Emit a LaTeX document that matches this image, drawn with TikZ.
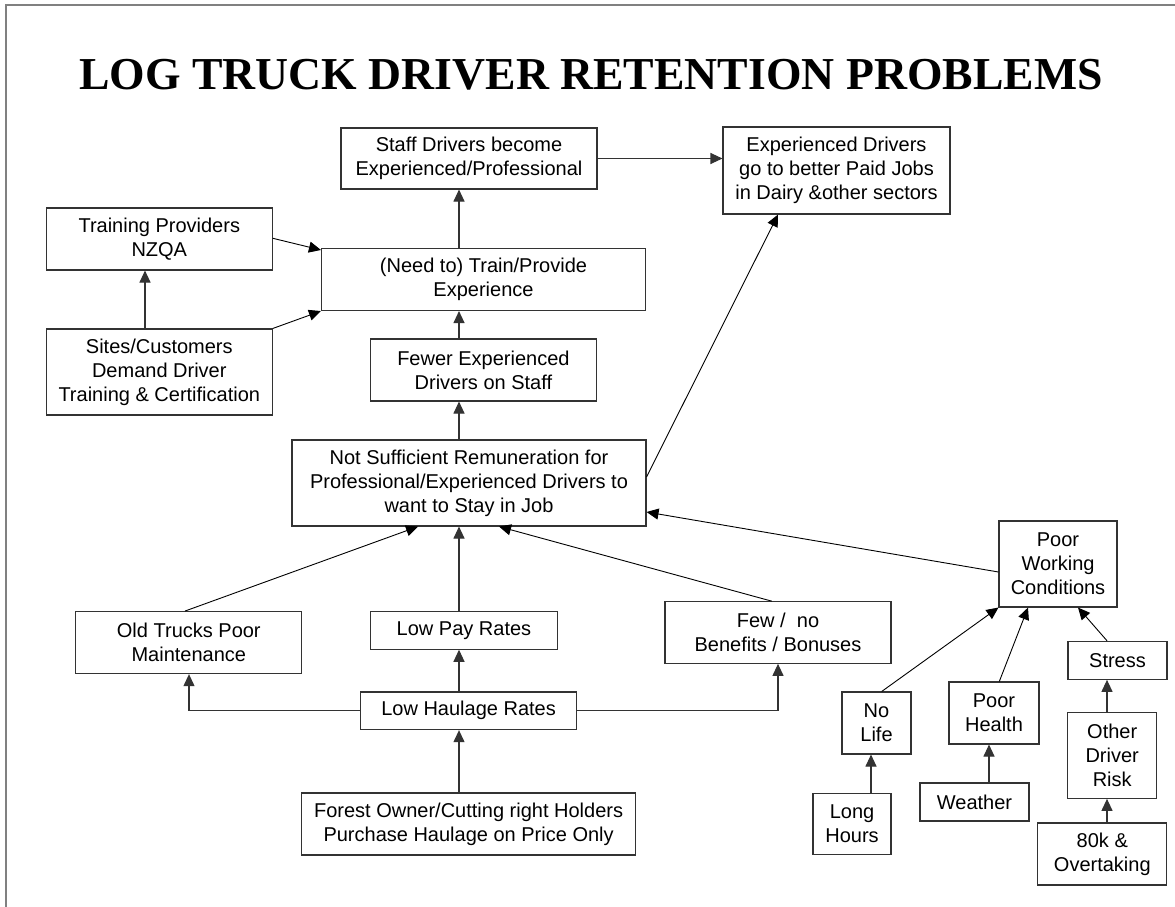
\documentclass[tikz,border=0pt]{standalone}
\usepackage{fontspec}
\setmainfont{Liberation Sans}
\newfontfamily\titlefont{Liberation Serif}
\usetikzlibrary{arrows.meta}

\begin{document}
\begin{tikzpicture}[x=1pt,y=-1pt,
  box/.style={draw=black!80, line width=1.1pt, align=center, inner sep=0pt,
              font=\fontsize{20}{24}\selectfont},
  arr/.style={draw=black!80, line width=1.1pt, -{Triangle[length=12pt,width=11pt]}},
  slant/.style={arr, draw=black, line width=0.9pt}]
\useasboundingbox (0,0) rectangle (1175,907);
% page frame
\draw[black!50, line width=2pt] (6,907) -- (6,5) -- (1175,5);

\node[font=\titlefont\bfseries\fontsize{45.7}{50}\selectfont, anchor=base] (title) at (591,89)
  {LOG TRUCK DRIVER RETENTION PROBLEMS};

% boxes
\node[box, minimum width=256pt, minimum height=61pt] (staff) at (469,158.5)
  {Staff Drivers become\\Experienced/Professional};
\node[box, minimum width=227pt, minimum height=87pt] (exp) at (836.5,170.5)
  {Experienced Drivers\\go to better Paid Jobs\\in Dairy \&other sectors};
\node[box, minimum width=226pt, minimum height=62pt] (tp) at (159.3,239)
  {Training Providers\\NZQA};
\node[box, minimum width=324pt, minimum height=62pt] (train) at (483.5,279.5)
  {(Need to) Train/Provide\\Experience};
\node[box, minimum width=226pt, minimum height=86pt] (sites) at (159.3,372)
  {Sites/Customers\\Demand Driver\\Training \& Certification};
\node[box, minimum width=226pt, minimum height=62pt] (fewer) at (483.4,370)
  {Fewer Experienced\\Drivers on Staff};
\node[box, minimum width=354pt, minimum height=86pt] (notsuf) at (469,483)
  {Not Sufficient Remuneration for\\Professional/Experienced Drivers to\\want to Stay in Job};
\node[box, minimum width=118pt, minimum height=86pt] (pwc) at (1058,564)
  {Poor\\Working\\Conditions};
\node[box, minimum width=226pt, minimum height=62pt] (old) at (188.8,642.6)
  {Old Trucks Poor\\Maintenance};
\node[box, minimum width=187pt, minimum height=37.6pt] (lowpay) at (464,630.4)
  {Low Pay Rates};
\node[box, minimum width=226pt, minimum height=61.6pt] (few) at (778,632.5)
  {Few /\ \ no\\Benefits / Bonuses};
\node[box, minimum width=216pt, minimum height=37.6pt] (lowhaul) at (468.6,710.8)
  {Low Haulage Rates};
\node[box, minimum width=333.7pt, minimum height=62pt] (forest) at (468.6,824)
  {Forest Owner/Cutting right Holders\\Purchase Haulage on Price Only};
\node[box, minimum width=99pt, minimum height=38pt] (stress) at (1117.5,660.3)
  {Stress};
\node[box, minimum width=69pt, minimum height=62pt] (nolife) at (876.5,723)
  {No\\Life};
\node[box, minimum width=90pt, minimum height=62pt] (health) at (994,713)
  {Poor\\Health};
\node[box, minimum width=89pt, minimum height=86pt] (risk) at (1112.2,755.3)
  {Other\\Driver\\Risk};
\node[box, minimum width=78pt, minimum height=61pt] (hours) at (852,823.7)
  {Long\\Hours};
\node[box, minimum width=109pt, minimum height=38pt] (weather) at (974.5,802)
  {Weather};
\node[box, minimum width=129pt, minimum height=62pt] (overtake) at (1102.3,854)
  {80k \&\\Overtaking};

% connector guide positions
\coordinate (spine) at (459,0);
\coordinate (tpx) at (145,0);
\coordinate (oldtop) at (185,0);
\coordinate (oldin) at (418,0);
\coordinate (fewtop) at (771.7,0);
\coordinate (fewin) at (499,0);
\coordinate (oldleg) at (189,0);
\coordinate (expin) at (778,0);
\coordinate (notsufout) at (0,477);
\coordinate (notsufin) at (0,512);
\coordinate (pwcout) at (0,572);
\coordinate (tpout) at (0,238.3);
\coordinate (trainin) at (0,250);
\coordinate (hoursx) at (871,0);
\coordinate (weatherx) at (989,0);
\coordinate (lifetop) at (881.7,0);
\coordinate (healthtop) at (999.3,0);
\coordinate (healthin) at (1028,0);
\coordinate (riskx) at (1107,0);
\coordinate (stressin) at (1078,0);

% main causal chain
\draw[arr] (train.north -| spine) -- (staff.south -| spine);
\draw[arr] (fewer.north -| spine) -- (train.south -| spine);
\draw[arr] (notsuf.north -| spine) -- (fewer.south -| spine);
\draw[arr] (lowpay.north -| spine) -- (notsuf.south -| spine);
\draw[arr] (lowhaul.north -| spine) -- (lowpay.south -| spine);
\draw[arr] (forest.north -| spine) -- (lowhaul.south -| spine);
\draw[arr] (staff.east) -- (staff.east -| exp.west);

% training side
\draw[arr] (sites.north -| tpx) -- (tp.south -| tpx);
\draw[slant] (tp.east |- tpout) -- (train.west |- trainin);
\draw[slant] (sites.north east) -- (train.south west);

% remuneration causes
\draw[slant] (old.north -| oldtop) -- (notsuf.south -| oldin);
\draw[slant] (few.north -| fewtop) -- (notsuf.south -| fewin);
\draw[slant] (notsuf.east |- notsufout) -- (exp.south -| expin);
\draw[slant] (pwc.west |- pwcout) -- (notsuf.east |- notsufin);
\draw[arr] (lowhaul.west) -| (old.south -| oldleg);
\draw[arr] (lowhaul.east) -| (few.south);

% working conditions
\draw[slant] (nolife.north -| lifetop) -- (pwc.south west);
\draw[slant] (health.north -| healthtop) -- (pwc.south -| healthin);
\draw[slant] (stress.north -| riskx) -- (pwc.south -| stressin);
\draw[arr] (hours.north -| hoursx) -- (nolife.south -| hoursx);
\draw[arr] (weather.north -| weatherx) -- (health.south -| weatherx);
\draw[arr] (risk.north -| riskx) -- (stress.south -| riskx);
\draw[arr] (overtake.north -| riskx) -- (risk.south -| riskx);
\end{tikzpicture}
\end{document}
